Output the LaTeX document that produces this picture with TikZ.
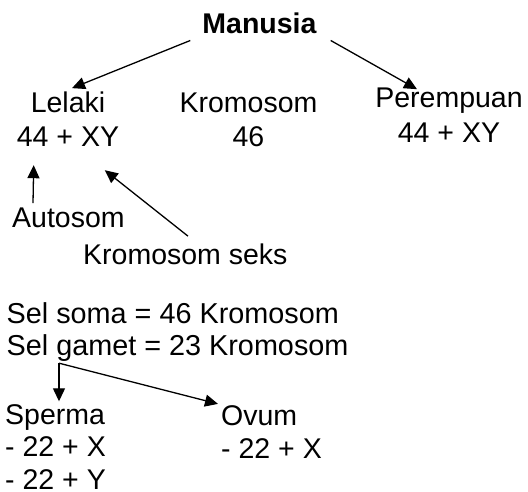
\documentclass[tikz,border=0pt]{standalone}
\usepackage{fontspec}
\setmainfont{Liberation Sans}
\usepackage{tikz}
\usetikzlibrary{arrows.meta, positioning}
\tikzset{
  txt/.style={font=\fontsize{28.5}{34}\selectfont, inner sep=0pt, align=center, anchor=base},
  txtl/.style={font=\fontsize{28.5}{33}\selectfont, inner sep=0pt, align=left, anchor=base west},
  arr/.style={-{Triangle[length=13pt, width=12pt]}, line width=1.3pt, black},
}

\begin{document}
\begin{tikzpicture}[x=1pt, y=-1pt]
  \useasboundingbox (0,0) rectangle (528,491);

  % base = baseline of the last line
  \node[txt, font=\fontsize{28.5}{34}\selectfont\bfseries] (manusia) at (259.5,33) {Manusia};
  \node[txt] (lelaki)    at (68,146)    {Lelaki\\44 + XY};
  \node[txt] (kromosom)  at (248.5,146) {Kromosom\\46};
  \node[txt, font=\fontsize{28.5}{35}\selectfont] (perempuan) at (449,142) {Perempuan\\44 + XY};

  \node[txtl] (autosom) at (12,227) {Autosom};
  \node[txtl] (seks)    at (83,264) {Kromosom seks};

  \node[txtl, font=\fontsize{28.8}{32}\selectfont] (sel) at (6.5,355)
       {Sel soma = 46 Kromosom\\Sel gamet = 23 Kromosom};
  \node[txtl, font=\fontsize{28.5}{32.5}\selectfont] (sperma) at (5,489)  {Sperma\\- 22 + X\\- 22 + Y};
  \node[txtl] (ovum)   at (221,458) {Ovum\\- 22 + X};

  % jenis kelamin
  \draw[arr] ([shift={(-12,7)}]manusia.south west) -- ([shift={(4,-3)}]lelaki.north);
  \draw[arr] ([shift={(14,7)}]manusia.south east) -- ([shift={(-32,2)}]perempuan.north);

  % kromosom pada lelaki
  \draw[arr] ([shift={(21,-4)}]autosom.north west) -- ([shift={(17,19)}]lelaki.south west);
  \draw[arr] ([shift={(105,-7)}]seks.north west) -- ([shift={(-14.5,24)}]lelaki.south east);

  % sel gamet
  \coordinate (split) at ([shift={(52.5,2)}]sel.south west);
  \draw[arr] (split) -- ([shift={(54,-2.6)}]sperma.north west);
  \draw[arr] (split) -- ([shift={(-3,-1)}]ovum.north west);
\end{tikzpicture}
\end{document}
